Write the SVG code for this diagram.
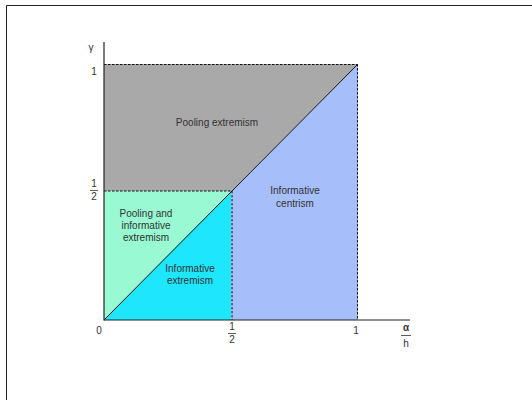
<svg xmlns="http://www.w3.org/2000/svg" width="532" height="400" viewBox="0 0 532 400">
<style>
.t{font-family:"Liberation Sans",Arial,sans-serif;font-size:10px;fill:#333;text-anchor:middle}
.a{font-family:"Liberation Sans",Arial,sans-serif;font-size:10px;fill:#333;text-anchor:middle}
.d{stroke:#111;stroke-width:1;stroke-dasharray:2.5,1.5;fill:none}
</style>
<rect width="532" height="400" fill="#fff"/>
<path d="M6.5 400 V5.5 H532" fill="none" stroke="#222" stroke-width="1"/>
<g id="regions">
<polygon id="pooling" points="104,64 358,64 231.5,191 104,191" fill="#a9a9a9"/>
<polygon id="pooling-informative" points="104,191 231.5,191 104,320" fill="#98f9d2"/>
<polygon id="informative-extremism" points="104,320 231.5,191 231.5,320" fill="#1ee6fc"/>
<polygon id="informative-centrism" points="231.5,191 358,64 358,320 231.5,320" fill="#a6bef9"/>
</g>
<g id="connectors">
<line class="d" x1="104" y1="64.5" x2="358" y2="64.5"/>
<line class="d" x1="104" y1="191" x2="232" y2="191"/>
<line class="d" x1="232" y1="191" x2="232" y2="320"/>
<line class="d" x1="357.5" y1="64" x2="357.5" y2="320"/>
<line x1="104" y1="320" x2="358" y2="64" stroke="#111" stroke-width="1"/>
<line x1="104" y1="42" x2="104" y2="320.5" stroke="#222" stroke-width="1.2"/>
<line x1="104" y1="320" x2="410" y2="320" stroke="#222" stroke-width="1.2"/>
</g>
<g id="labels">
<text class="t" x="217" y="126">Pooling extremism</text>
<text class="t" x="295" y="194">Informative</text>
<text class="t" x="295" y="207">centrism</text>
<text class="t" x="146" y="217">Pooling and</text>
<text class="t" x="146" y="229">informative</text>
<text class="t" x="146" y="241">extremism</text>
<text class="t" x="190" y="272">Informative</text>
<text class="t" x="190" y="284">extremism</text>
</g>
<g id="axis-labels">
<text class="a" x="91" y="51" font-size="12">γ</text>
<text class="a" x="94" y="75">1</text>
<text class="a" x="94" y="187">1</text>
<line x1="90" y1="190.5" x2="98" y2="190.5" stroke="#333" stroke-width="0.8"/>
<text class="a" x="94" y="200">2</text>
<text class="a" x="99" y="334">0</text>
<text class="a" x="232" y="330">1</text>
<line x1="228" y1="333.5" x2="236" y2="333.5" stroke="#333" stroke-width="0.8"/>
<text class="a" x="232" y="343">2</text>
<text class="a" x="356" y="334">1</text>
<text class="a" x="406" y="331" font-size="12" font-weight="bold">α</text>
<line x1="401" y1="335.5" x2="411" y2="335.5" stroke="#333" stroke-width="0.8"/>
<text class="a" x="406" y="347">h</text>
</g>
</svg>
